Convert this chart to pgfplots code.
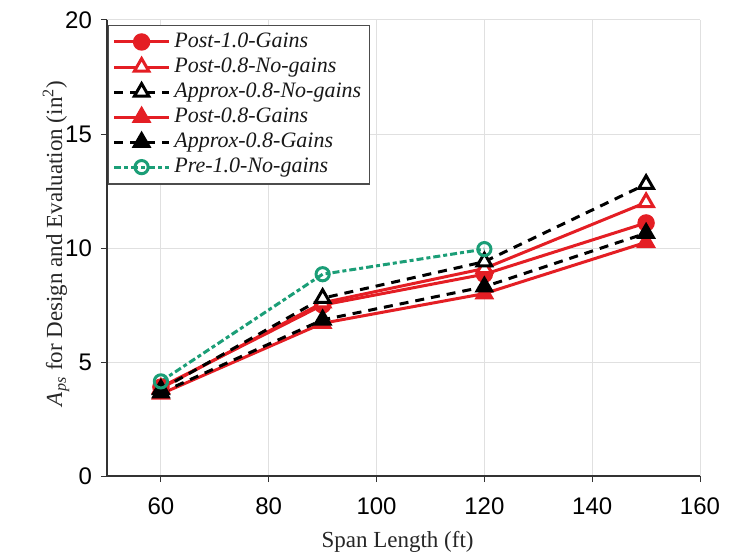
\documentclass[border=0pt]{standalone}
\usepackage{fontspec}
\setmainfont{Liberation Serif}
\newfontfamily\arial{Liberation Sans}
\usepackage{pgfplots}
\pgfplotsset{compat=1.18}
\definecolor{myred}{RGB}{228,30,36}
\definecolor{mygreen}{RGB}{27,158,119}
\begin{document}
\begin{tikzpicture}
\begin{axis}[
  name=ax,
  scale only axis, width=296.5pt, height=228pt,
  xmin=50, xmax=160, ymin=0, ymax=20,
  xtick={60,80,...,160}, ytick={0,5,...,20},
  axis x line*=bottom, axis y line*=left,
  grid=major, grid style={black!12, line width=0.5pt},
  tick align=outside, major tick length=3pt,
  tick style={black!80, line width=0.5pt},
  axis line style={black!80, line width=0.6pt},
  ticklabel style={font=\arial\fontsize{12}{14}\selectfont},
  xticklabel style={yshift=-4.5pt},
  yticklabel style={xshift=-1pt},
  /pgf/number format/assume math mode=true,
  xlabel={Span Length (ft)},
  ylabel={\textit{A}\textsubscript{\textit{ps}} for Design and Evaluation (in\textsuperscript{2})},
  label style={font=\fontsize{11.5}{13}\selectfont, text=black!85},
  xlabel style={at={(axis description cs:0.49,-0.145)}, anchor=center},
  ylabel style={at={(axis description cs:-0.086,0.51)}, anchor=center},
  legend cell align=left,
  legend style={at={(0.002,0.99)}, anchor=north west, draw=black!70, line width=0.6pt,
    font=\itshape\fontsize{11}{13}\selectfont, row sep=-0.3pt, inner sep=2pt,
    nodes={text=black!90}},
  legend image code/.code={\draw[mark repeat=2,mark phase=2] plot coordinates {(0cm,0cm) (0.48cm,0cm) (0.96cm,0cm)};},
]
\addplot[myred, line width=1.5pt, mark=*, mark size=3.6pt, mark options={solid, fill=myred}]
  coordinates {(60,3.9) (90,7.5) (120,8.85) (150,11.1)};
\addlegendentry{Post-1.0-Gains}
\addplot[myred, line width=1.5pt, mark=triangle*, mark size=4.2pt, mark options={solid, fill=white}]
  coordinates {(60,3.85) (90,7.6) (120,9.1) (150,12.0)};
\addlegendentry{Post-0.8-No-gains}
\addplot[black, line width=1.5pt, dash pattern=on 4.5pt off 3.5pt, mark=triangle*, mark size=4.2pt, mark options={solid, fill=white}]
  coordinates {(60,3.8) (90,7.8) (120,9.4) (150,12.8)};
\addlegendentry{Approx-0.8-No-gains}
\addplot[myred, line width=1.5pt, mark=triangle*, mark size=4.2pt, mark options={solid, fill=myred}]
  coordinates {(60,3.6) (90,6.7) (120,8.0) (150,10.25)};
\addlegendentry{Post-0.8-Gains}
\addplot[black, line width=1.5pt, dash pattern=on 4.5pt off 3.5pt, mark=triangle*, mark size=4.2pt, mark options={solid, fill=black}]
  coordinates {(60,3.65) (90,6.85) (120,8.3) (150,10.65)};
\addlegendentry{Approx-0.8-Gains}
\addplot[mygreen, line width=1.5pt, dash pattern=on 3.5pt off 1.5pt on 2pt off 1.5pt, mark=o, mark size=3.3pt, mark options={solid, fill=white, line width=1.5pt}]
  coordinates {(60,4.15) (90,8.85) (120,9.95)};
\addlegendentry{Pre-1.0-No-gains}
\end{axis}
\path (ax.south west) ++(-53.5pt,-37.5pt) coordinate (bbA);
\path (ax.north east) ++(18.5pt,10pt) coordinate (bbB);
\path[use as bounding box] (bbA) rectangle (bbB);
\end{tikzpicture}
\end{document}
